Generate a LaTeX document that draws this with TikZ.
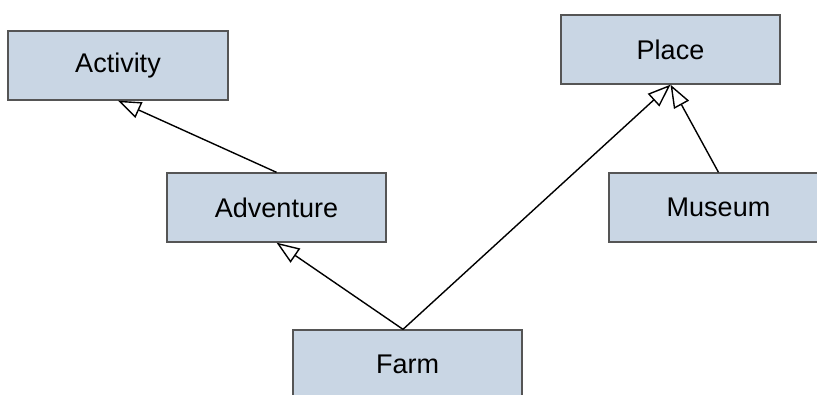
\documentclass[tikz,border=0pt]{standalone}
\usepackage{fontspec}
\setmainfont{Liberation Sans}
\usetikzlibrary{arrows.meta}
\definecolor{boxfill}{RGB}{201,214,228}
\definecolor{boxline}{RGB}{85,85,85}
\begin{document}
\begin{tikzpicture}[x=1pt,y=-1pt,
  classbox/.style={draw=boxline,line width=1.3pt,fill=boxfill,inner sep=0pt,
    minimum width=219pt,minimum height=69pt,font=\fontsize{27}{31}\selectfont},
  inherit/.style={draw=black,line width=1.4pt,
    -{Triangle[open,fill=white,length=23pt,width=17pt,line width=1.4pt]}}]
  \useasboundingbox (0,0) rectangle (817,395);
  \clip (0,0) rectangle (817,395);
  \fill[white] (0,0) rectangle (817,395);

  \node[classbox,minimum width=220pt] (activity) at (118,65.5) {Activity};
  \node[classbox] (place) at (670.5,49.5) {Place};
  \node[classbox] (adventure) at (276.5,207.5) {Adventure};
  \node[classbox] (museum) at (718.5,207.5) {Museum};
  \node[classbox,minimum width=229pt] (farm) at (407.5,364.5) {Farm};

  \coordinate (farmtop) at ([xshift=-4.5pt]farm.north);

  \draw[inherit] (adventure.north) -- (activity.south);
  \draw[inherit] (farmtop) -- (adventure.south);
  \draw[inherit] (farmtop) -- (place.south);
  \draw[inherit] (museum.north) -- (place.south);
\end{tikzpicture}
\end{document}
